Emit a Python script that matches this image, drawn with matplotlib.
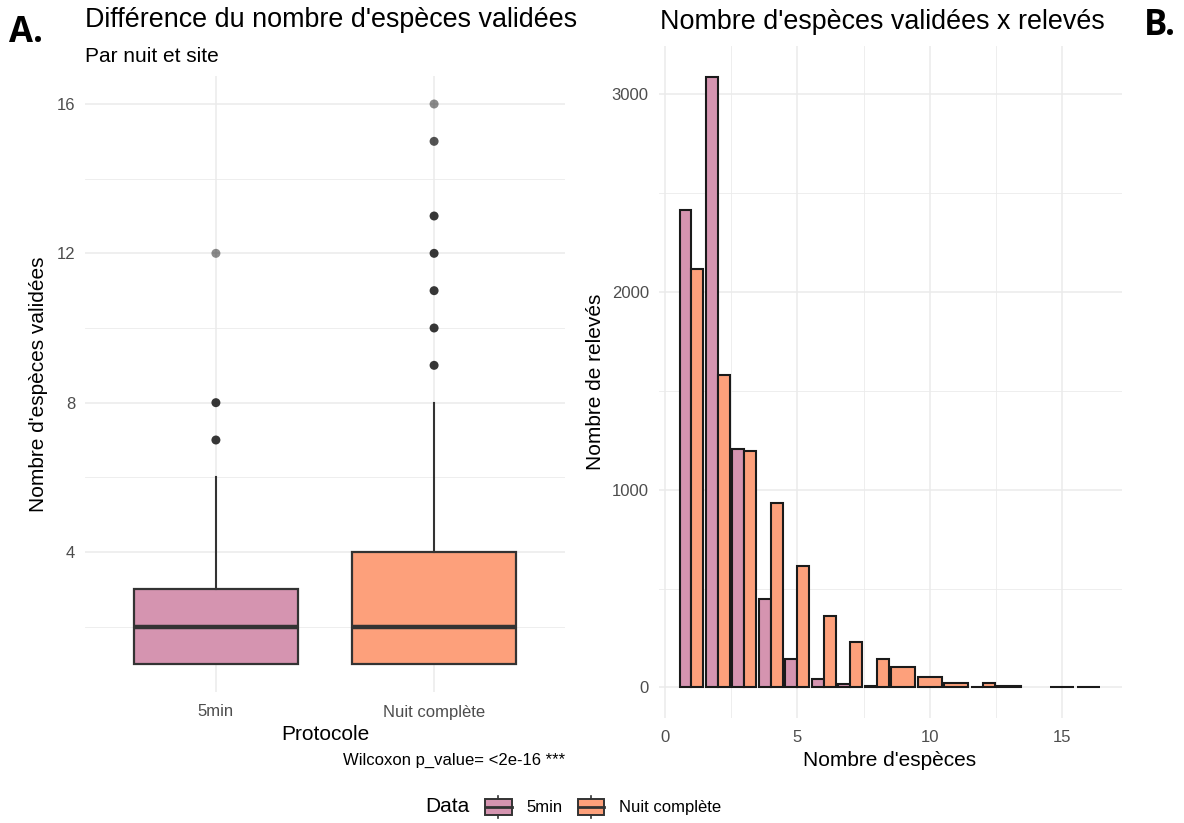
import matplotlib
matplotlib.use("Agg")
import matplotlib.pyplot as plt
import numpy as np
from matplotlib.legend_handler import HandlerBase
from matplotlib.patches import Rectangle, Patch
from matplotlib.lines import Line2D

plt.rcParams['font.family'] = ['Liberation Sans', 'DejaVu Sans']

# --- data -------------------------------------------------------------
protocols = ["5min", "Nuit complète"]
colors = ["#d594b0", "#fda07b"]

# boxplot summary per protocole (par nuit et site)
q1 = [1, 1]
median = [2, 2]
q3 = [3, 4]
whisk_lo = [1, 1]
whisk_hi = [6, 8]
outliers = [[7, 8, 12], [9, 10, 11, 12, 13, 15, 16]]
outlier_n = [[3, 3, 1], [3, 3, 3, 3, 3, 2, 1]]   # overlapping points -> darker

# histogram: number of releves per number of species
n_species = np.arange(1, 17)
count_5min = [2414, 3088, 1207, 449, 146, 45, 17, 8, 0, 0, 0, 2, 0, 0, 0, 0]
count_nuit = [2116, 1581, 1195, 931, 613, 360, 230, 143, 101, 54, 25, 25, 8, 0, 3, 3]

caption = "Wilcoxon p_value= <2e-16 ***"

W, H = 1184, 823
fig = plt.figure(figsize=(W / 100, H / 100), dpi=100)


def px_axes(x0, y0, x1, y1):
    # pixel box (top-left origin) -> figure axes
    return fig.add_axes([x0 / W, 1 - y1 / H, (x1 - x0) / W, (y1 - y0) / H])


def minimal(ax):
    for s in ax.spines.values():
        s.set_visible(False)
    ax.set_axisbelow(True)
    ax.grid(which='major', color='#ebebeb', lw=1.1)
    ax.grid(which='minor', color='#ebebeb', lw=0.6)
    ax.tick_params(which='both', length=0, labelsize=12, labelcolor='#4d4d4d', pad=7)


GRID = '#333333'

# --- A. boxplot -------------------------------------------------------
ax1 = px_axes(85, 76, 565, 692)
minimal(ax1)
stats = []
for i in range(len(protocols)):
    stats.append(dict(med=median[i], q1=q1[i], q3=q3[i], whislo=whisk_lo[i],
                      whishi=whisk_hi[i], fliers=[], label=protocols[i]))
pos = np.arange(1, len(protocols) + 1)
bp = ax1.bxp(stats, positions=pos, widths=0.75, patch_artist=True, showcaps=False,
             boxprops=dict(edgecolor=GRID, lw=1.6),
             whiskerprops=dict(color=GRID, lw=1.5),
             medianprops=dict(color=GRID, lw=3.2))
for patch, c in zip(bp['boxes'], colors):
    patch.set_facecolor(c)
for i, (ys, ns) in enumerate(zip(outliers, outlier_n)):
    alpha = [1 - 0.5 ** n for n in ns]
    rgba = [(0.1, 0.1, 0.1, a) for a in alpha]
    ax1.scatter(np.full(len(ys), pos[i]), ys, s=42, c=rgba, edgecolors='none', zorder=4)

ax1.set_xlim(0.4, len(protocols) + 0.6)
ax1.set_ylim(0.25, 16.75)
ax1.set_yticks([4, 8, 12, 16])
ax1.set_yticks([2, 6, 10, 14], minor=True)
ax1.set_xticks(pos)
ax1.set_xticklabels(protocols)
ax1.tick_params(axis='x', pad=9)
ax1.set_xlabel("Protocole", fontsize=15, labelpad=4)
ax1.set_ylabel("Nombre d'espèces validées", fontsize=15, labelpad=6)

fig.text(85 / W, 1 - 20 / H, "Différence du nombre d'espèces validées", fontsize=19.4,
         ha='left', va='center')
fig.text(85 / W, 1 - 56 / H, "Par nuit et site", fontsize=15, ha='left', va='center')
fig.text(565 / W, 1 - 760 / H, caption, fontsize=12, ha='right', va='center')

# --- B. histogram ----------------------------------------------------
ax2 = px_axes(658.5, 46, 1121.5, 718)
minimal(ax2)
full = 0.9
for k, x in enumerate(n_species):
    present = [(j, v) for j, v in enumerate([count_5min[k], count_nuit[k]]) if v > 0]
    w = full / len(present) if present else full
    for m, (j, v) in enumerate(present):
        xc = x - full / 2 + w * (m + 0.5)
        ax2.bar(xc, v, width=w, color=colors[j], edgecolor='#1a1a1a', lw=1.5)

ax2.use_sticky_edges = False
ax2.margins(x=0.05, y=0.05)
ax2.set_xticks([0, 5, 10, 15])
ax2.set_xticks([2.5, 7.5, 12.5], minor=True)
ax2.set_yticks([0, 1000, 2000, 3000])
ax2.set_yticks([500, 1500, 2500], minor=True)
ax2.tick_params(axis='x', pad=9)
ax2.set_xlabel("Nombre d'espèces", fontsize=15, labelpad=4)
ax2.set_ylabel("Nombre de relevés", fontsize=15, labelpad=5)
fig.text(660 / W, 1 - 22 / H, "Nombre d'espèces validées x relevés", fontsize=19.4,
         ha='left', va='center')

# panel tags
fig.text(9 / W, 1 - 33 / H, "A.", fontsize=25, fontweight='bold',
         family=['Open Sans', 'DejaVu Sans'], ha='left', va='center')
fig.text(1144 / W, 1 - 26 / H, "B.", fontsize=25, fontweight='bold',
         family=['Open Sans', 'DejaVu Sans'], ha='left', va='center')


# --- legend with boxplot keys ---------------------------------------
class BoxKey(HandlerBase):
    def create_artists(self, legend, orig_handle, xdescent, ydescent, width, height,
                       fontsize, trans):
        x0, y0 = -xdescent, -ydescent
        rect = Rectangle((x0, y0 + 0.14 * height), width, 0.72 * height,
                         facecolor=orig_handle.get_facecolor(), edgecolor=GRID, lw=1.4,
                         transform=trans)
        med = Line2D([x0, x0 + width], [y0 + 0.5 * height] * 2, color=GRID, lw=2,
                     transform=trans)
        top = Line2D([x0 + width / 2] * 2, [y0 + 0.86 * height, y0 + height], color=GRID,
                     lw=1.2, transform=trans)
        bot = Line2D([x0 + width / 2] * 2, [y0, y0 + 0.14 * height], color=GRID,
                     lw=1.2, transform=trans)
        return [rect, med, top, bot]


handles = [Patch(facecolor=c) for c in colors]
fig.text(447 / W, 1 - 807 / H, "Data", fontsize=15, ha='center', va='center')
fig.legend(handles, protocols, handler_map={Patch: BoxKey()}, ncol=2, frameon=False,
           fontsize=12, handlelength=1.6, handleheight=1.7, columnspacing=0.9,
           handletextpad=0.9, loc='center left', bbox_to_anchor=(470 / W, 1 - 807 / H))

fig.savefig("out.png", dpi=100)
